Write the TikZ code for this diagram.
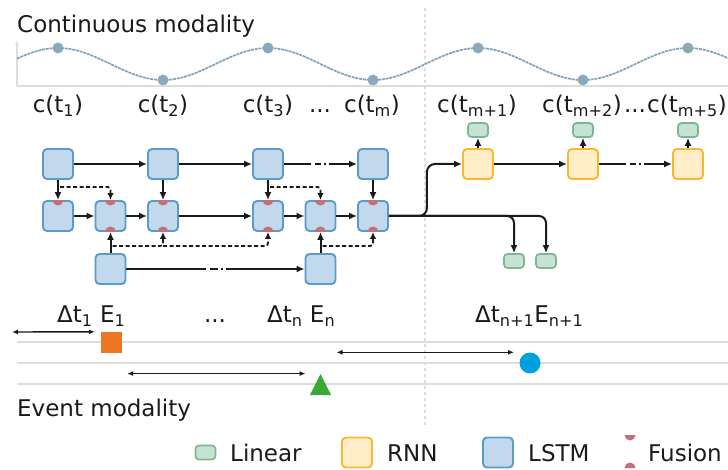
\documentclass[tikz,border=0pt]{standalone}
\usepackage{fontspec}
\setmainfont{DejaVu Sans}
\usetikzlibrary{arrows.meta, positioning, calc, shapes.geometric}
\definecolor{lstmfill}{HTML}{C2D8EC}
\definecolor{lstmdraw}{HTML}{5B9BC8}
\definecolor{rnnfill}{HTML}{FFEEC8}
\definecolor{rnndraw}{HTML}{FBB82E}
\definecolor{linfill}{HTML}{C6E2D3}
\definecolor{lindraw}{HTML}{7AB893}
\definecolor{fusecol}{HTML}{C46F7A}
\definecolor{wavecol}{HTML}{7FA3B7}
\definecolor{dotcol}{HTML}{8AAABB}
\definecolor{gridcol}{HTML}{DDDDDD}
\definecolor{evorange}{HTML}{EE7623}
\definecolor{evgreen}{HTML}{3AAA35}
\definecolor{evblue}{HTML}{00A0DF}
\definecolor{ink}{HTML}{1A1A1A}
\tikzstyle{lstm} = [rectangle, rounded corners=4pt,
minimum size=30pt, inner sep=0pt, line width=1.9pt,
draw=lstmdraw, fill=lstmfill]
\tikzstyle{rnn} = [lstm, draw=rnndraw, fill=rnnfill]
\tikzstyle{linear} = [rectangle, rounded corners=3.5pt,
minimum width=20pt, minimum height=14pt, inner sep=0pt,
line width=1.7pt, draw=lindraw, fill=linfill]
\tikzstyle{arrow} = [ink, line width=2pt, -{Latex[length=8pt,width=7pt]}]
\tikzstyle{gaparrow} = [arrow,
dash pattern=on 27pt off 4pt on 6pt off 3pt on 2pt off 3pt on 300pt off 0pt]
\tikzstyle{longgap} = [arrow,
dash pattern=on 80pt off 4pt on 8pt off 3pt on 2pt off 3pt on 300pt off 0pt]
\tikzstyle{dotarrow} = [ink, line width=1.8pt, dash pattern=on 4pt off 2.5pt,
-{Latex[length=7pt,width=6.5pt]}]
\tikzstyle{timearrow} = [ink, line width=1.4pt,
{Latex[length=6pt,width=5pt]}-{Latex[length=6pt,width=5pt]}]
\tikzstyle{txt} = [inner sep=0pt, text=ink, font=\fontsize{23}{27}\selectfont]
\tikzstyle{fusion} = [fill=fusecol]
\tikzstyle{wavedot} = [circle, fill=dotcol, minimum size=11pt, inner sep=0pt]
\newcommand{\fusetop}[1]{\fill[fusion] ($(#1)+(-5.5,0)$) arc[start angle=180, end angle=360, radius=5.5pt] -- cycle;}
\newcommand{\fusebot}[1]{\fill[fusion] ($(#1)+(-5.5,0)$) arc[start angle=180, end angle=0, radius=5.5pt] -- cycle;}

\begin{document}
\begin{tikzpicture}[x=1pt, y=-1pt, node distance=105pt]
    \useasboundingbox (0,0) rectangle (728,470);
    % separator and axes
    \draw[gridcol, line width=1.3pt, dash pattern=on 3pt off 3pt] (425,8) -- (425,428);
    \draw[gridcol, line width=1.6pt] (17,86) -- (728,86);
    \draw[gridcol, line width=1.3pt, -{Latex[length=5pt,width=4pt]}] (17,86) -- (17,40);
    \foreach \y in {342,363,384}
        \draw[gridcol, line width=1.5pt] (17,\y) -- (728,\y);

    % continuous signal
    \draw[wavecol, line width=1.7pt, dash pattern=on 3pt off 0.8pt]
        plot[domain=17:728, samples=160] (\x, {64-16*cos((\x-58)*12/7)});
    \foreach \i/\x/\y in {1/58/48, 2/163/80, 3/268/48, 4/373/80,
                          5/478/48, 6/583/80, 7/688/48}
        \node (w\i) [wavedot] at (\x,\y) {};

    \node (title) [txt, anchor=base west] at (17,33) {Continuous modality};
    \node (ctl1) [txt, anchor=base] at (58,113) {c(t\textsubscript{1})};
    \node (ctl2) [txt, anchor=base] at (163,113) {c(t\textsubscript{2})};
    \node (ctl3) [txt, anchor=base] at (268,113) {c(t\textsubscript{3})};
    \node (ctd1) [txt, anchor=base] at (320,113) {...};
    \node (ctl4) [txt, anchor=base] at (372,113) {c(t\textsubscript{m})};
    \node (ctl5) [txt, anchor=base] at (477,113) {c(t\textsubscript{m+1})};
    \node (ctl6) [txt, anchor=base] at (582,113) {c(t\textsubscript{m+2})};
    \node (ctd2) [txt, anchor=base] at (635,113) {...};
    \node (ctl7) [txt, anchor=base] at (687,113) {c(t\textsubscript{m+5})};

    % LSTM blocks
    \node (ct1) [lstm] at (58,164) {};
    \node (ct2) [lstm, right of=ct1] {};
    \node (ct3) [lstm, right of=ct2] {};
    \node (ct4) [lstm, right of=ct3] {};
    \node (fu1) [lstm, below of=ct1, node distance=52pt] {};
    \node (fu2) [lstm, right of=fu1, node distance=52.5pt] {};
    \node (fu3) [lstm, below of=ct2, node distance=52pt] {};
    \node (fu4) [lstm, below of=ct3, node distance=52pt] {};
    \node (fu5) [lstm, right of=fu4, node distance=52.5pt] {};
    \node (fu6) [lstm, below of=ct4, node distance=52pt] {};
    \node (ev1) [lstm, below of=fu2, node distance=53pt] {};
    \node (ev2) [lstm, below of=fu5, node distance=53pt] {};

    % RNN decoder
    \node (rnn1) [rnn, right of=ct4] {};
    \node (rnn2) [rnn, right of=rnn1] {};
    \node (rnn3) [rnn, right of=rnn2] {};
    \node (lin1) [linear, above of=rnn1, node distance=34pt] {};
    \node (lin2) [linear, above of=rnn2, node distance=34pt] {};
    \node (lin3) [linear, above of=rnn3, node distance=34pt] {};
    \node (lin4) [linear] at (514,261) {};
    \node (lin5) [linear, right of=lin4, node distance=32pt] {};

    % fusion marks
    \foreach \n in {fu1,fu2,fu3,fu4,fu5,fu6}
        \fusetop{\n.north};
    \foreach \n in {fu2,fu3,fu4,fu5,fu6}
        \fusebot{\n.south};

    \draw [arrow] (ct1) -- (ct2);
    \draw [arrow] (ct2) -- (ct3);
    \draw [gaparrow] (ct3) -- (ct4);
    \draw [arrow] (ct1) -- (fu1);
    \draw [arrow] (ct2) -- (fu3);
    \draw [arrow] (ct3) -- (fu4);
    \draw [arrow] (ct4) -- (fu6);
    \draw [arrow] (fu1) -- (fu2);
    \draw [arrow] (fu2) -- (fu3);
    \draw [arrow] (fu3) -- (fu4);
    \draw [arrow] (fu4) -- (fu5);
    \draw [arrow] (fu5) -- (fu6);
    \draw [arrow] (ev1) -- (fu2);
    \draw [arrow] (ev2) -- (fu5);
    \draw [longgap] (ev1) -- (ev2);
    \draw [dotarrow, rounded corners=3pt] ([xshift=2pt,yshift=-7pt]ct1.south) -| (fu2.north);
    \draw [dotarrow, rounded corners=3pt] ([xshift=2pt,yshift=-7pt]ct3.south) -| (fu5.north);
    \coordinate (ds1) at ([xshift=2pt,yshift=7pt]ev1.north);
    \coordinate (ds2) at ([xshift=2pt,yshift=7pt]ev2.north);
    \draw [dotarrow, rounded corners=3pt] (ds1) -| (fu3.south);
    \draw [dotarrow, rounded corners=3pt] (fu3.south |- ds1) -| (fu4.south);
    \draw [dotarrow, rounded corners=3pt] (ds2) -| (fu6.south);

    \draw [arrow, rounded corners=8pt] (fu6.east) -- ++(38,0) |- (rnn1.west);
    \draw [arrow, rounded corners=7pt] (fu6.east) -| (lin4.north);
    \draw [arrow, rounded corners=7pt] (fu6.east) -| (lin5.north);
    \draw [arrow] (rnn1) -- (rnn2);
    \draw [gaparrow] (rnn2) -- (rnn3);
    \draw [arrow] (rnn1) -- (lin1);
    \draw [arrow] (rnn2) -- (lin2);
    \draw [arrow] (rnn3) -- (lin3);

    % event modality
    \node (evl1) [txt, anchor=base west] at (57,323) {Δt\textsubscript{1} E\textsubscript{1}};
    \node (evd) [txt, anchor=base] at (215,323) {...};
    \node (evl2) [txt, anchor=base west] at (267,323) {Δt\textsubscript{n} E\textsubscript{n}};
    \node (evl3) [txt, anchor=base west] at (475,323) {Δt\textsubscript{n+1}E\textsubscript{n+1}};
    \node (mk1) [rectangle, fill=evorange, minimum size=21pt, inner sep=0pt] at (111.5,342.5) {};
    \node (mk2) [regular polygon, regular polygon sides=3, minimum size=28pt,
        xscale=0.87, inner sep=0pt, fill=evgreen] at (320.5,388) {};
    \node (mk3) [circle, fill=evblue, minimum size=21pt, inner sep=0pt] at (530,363) {};
    \coordinate (t0) at (12,332);
    \draw [timearrow] (t0) -- ($(mk1.north west)+(-6,0)$);
    \draw [timearrow] ($(mk1.east |- mk2.corner 1)+(5,0)$) -- ($(mk2.corner 1)+(-15,0)$);
    \draw [timearrow] ($(mk2.corner 1 |- mk3.north)+(16,0)$) -- ($(mk3.north)+(-16,0)$);
    \node (evtitle) [txt, anchor=base west] at (17,416) {Event modality};

    % legend
    \node (lglin) [linear] at (205.5,452.5) {};
    \node (lgtxt1) [txt, anchor=base west] at (230,461) {Linear};
    \node (lgrnn) [rnn] at (357,452.5) {};
    \node (lgtxt2) [txt, anchor=base west] at (387,461) {RNN};
    \node (lglstm) [lstm] at (498,452.5) {};
    \node (lgtxt3) [txt, anchor=base west] at (528,461) {LSTM};
    \coordinate (lgf1) at (630,435);
    \coordinate (lgf2) at (630,468);
    \fusetop{lgf1};
    \fusebot{lgf2};
    \node (lgtxt4) [txt, anchor=base west] at (648,461) {Fusion};
\end{tikzpicture}
\end{document}
